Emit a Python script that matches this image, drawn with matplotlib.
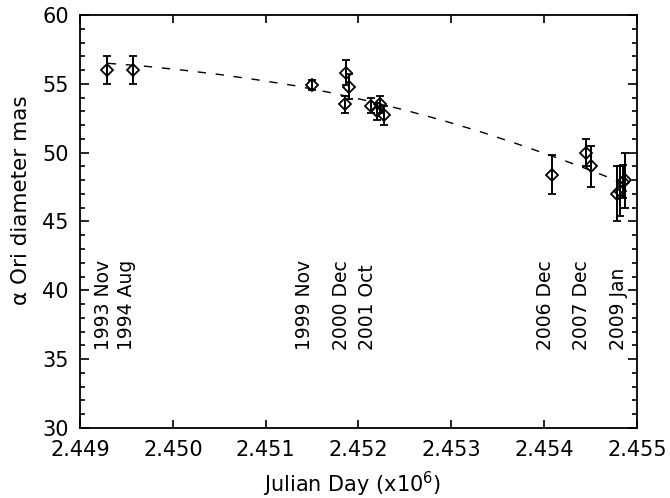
import matplotlib
matplotlib.use('Agg')
import matplotlib.pyplot as plt
import matplotlib.ticker as mtick

plt.rcParams['font.family'] = ['DejaVu Sans']

# Measurements: Julian Day (x10^6), diameter (mas), error (mas)
jd = [2.44929, 2.44957, 2.45150, 2.45187, 2.45190, 2.45185,
      2.45214, 2.45220, 2.45223, 2.45228,
      2.45408, 2.45445, 2.45451,
      2.45478, 2.45482, 2.45485, 2.45487]
diam = [56.0, 56.0, 54.9, 55.8, 54.8, 53.5,
        53.4, 53.0, 53.5, 52.7,
        48.4, 50.0, 49.0,
        47.0, 47.2, 47.9, 48.0]
diam_err = [1.0, 1.0, 0.35, 0.9, 0.9, 0.6,
            0.55, 0.6, 0.6, 0.7,
            1.4, 1.0, 1.5,
            2.0, 1.8, 1.2, 2.0]

# Dashed trend curve
curve_x = [2.44930, 2.44970, 2.45010, 2.45050, 2.45090, 2.45130, 2.45170,
           2.45210, 2.45250, 2.45290, 2.45330, 2.45370, 2.45410, 2.45450,
           2.45487]
curve_y = [56.49, 56.28, 56.00, 55.68, 55.30, 54.88, 54.36,
           53.76, 53.09, 52.36, 51.55, 50.66, 49.72, 48.72,
           47.73]

# Epoch labels
epoch_labels = ['1993 Nov', '1994 Aug', '1999 Nov', '2000 Dec', '2001 Oct',
                '2006 Dec', '2007 Dec', '2009 Jan']
epoch_x = [2.44925, 2.44950, 2.45142, 2.45182, 2.45210, 2.45401, 2.45440, 2.45480]
epoch_y = 35.7

x_ticks = [2.449, 2.450, 2.451, 2.452, 2.453, 2.454, 2.455]

fig = plt.figure(figsize=(6.7, 4.98), dpi=100)
ax = fig.add_axes([0.1194, 0.1406, 0.8313, 0.8293])

ax.plot(curve_x, curve_y, color='black', linewidth=1.0, dashes=(6, 7))
ax.errorbar(jd, diam, yerr=diam_err, fmt='D', mfc='none', mec='black',
            ms=5.8, mew=1.3, ecolor='black', elinewidth=1.4, capsize=3.2,
            capthick=1.4)

for lab, x in zip(epoch_labels, epoch_x):
    ax.text(x, epoch_y, lab, rotation=90, ha='center', va='bottom', fontsize=13.5)

ax.set_xlim(2.449, 2.455)
ax.set_ylim(30, 60)
ax.set_xticks(x_ticks)
ax.xaxis.set_major_formatter(mtick.FormatStrFormatter('%.3f'))
ax.yaxis.set_major_locator(mtick.MultipleLocator(5))
ax.yaxis.set_minor_locator(mtick.MultipleLocator(1))

ax.tick_params(which='both', direction='in', top=True, right=True, width=1.2,
               labelsize=15)
ax.tick_params(axis='x', which='major', length=6, pad=9)
ax.tick_params(axis='y', which='major', length=6.5, pad=8)
ax.tick_params(axis='y', which='minor', length=3.3)
for sp in ax.spines.values():
    sp.set_linewidth(1.3)

ax.set_xlabel('Julian Day (x10$^6$)', fontsize=15)
ax.set_ylabel('α Ori diameter mas', fontsize=15.5)
ax.xaxis.set_label_coords(0.489, -0.102)
ax.yaxis.set_label_coords(-0.088, 0.552)

fig.savefig('out.png', dpi=100)
